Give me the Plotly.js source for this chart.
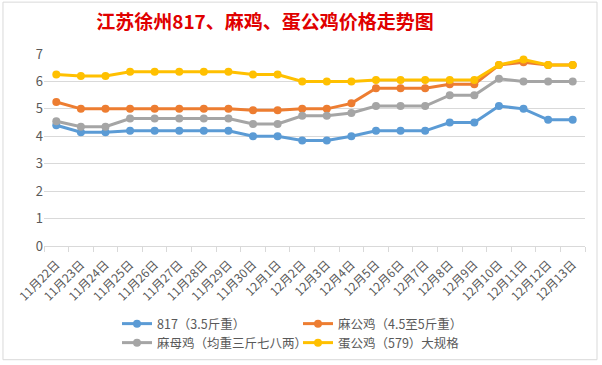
<!DOCTYPE html>
<html>
<head>
<meta charset="utf-8">
<script src="https://cdn.plot.ly/plotly-3.0.1.min.js"></script>
<style>html,body{margin:0;padding:0;background:#fff;}#chart{width:602px;height:365px;}</style>
</head>
<body>
<div id="chart"></div>
<script>
var dates = ["11月22日","11月23日","11月24日","11月25日","11月26日","11月27日","11月28日","11月29日","11月30日","12月1日","12月2日","12月3日","12月4日","12月5日","12月6日","12月7日","12月8日","12月9日","12月10日","12月11日","12月12日","12月13日"];
var s817 = [4.4,4.15,4.15,4.2,4.2,4.2,4.2,4.2,4.0,4.0,3.85,3.85,4.0,4.2,4.2,4.2,4.5,4.5,5.1,5.0,4.6,4.6];
var maGong = [5.25,5.0,5.0,5.0,5.0,5.0,5.0,5.0,4.95,4.95,5.0,5.0,5.2,5.75,5.75,5.75,5.9,5.9,6.6,6.7,6.6,6.6];
var maMu = [4.55,4.35,4.35,4.65,4.65,4.65,4.65,4.65,4.45,4.45,4.75,4.75,4.85,5.1,5.1,5.1,5.5,5.5,6.1,6.0,6.0,6.0];
var danGong = [6.25,6.2,6.2,6.35,6.35,6.35,6.35,6.35,6.25,6.25,6.0,6.0,6.0,6.05,6.05,6.05,6.05,6.05,6.6,6.8,6.6,6.6];
var names = ["817（3.5斤重）","麻公鸡（4.5至5斤重）","麻母鸡（均重三斤七八两）","蛋公鸡（579）大规格"];
var colors = ["#5b9bd5","#ed7d31","#a5a5a5","#ffc000"];
var series = [s817, maGong, maMu, danGong];
var legendIds = ["legend","legend","legend2","legend2"];

var traces = series.map(function(s, i){
  return {x: dates, y: s, name: names[i], type: "scatter", mode: "lines+markers", legend: legendIds[i],
    line: {color: colors[i], width: 3}, marker: {color: colors[i], size: 8}};
});

var legendBase = {orientation: "h", xref: "container", yref: "container", x: 117/602, xanchor: "left",
    yanchor: "top", entrywidth: 136, entrywidthmode: "pixels",
    font: {size: 12.5, color: "#595959"}, tracegroupgap: 0, itemwidth: 30, bgcolor: "rgba(0,0,0,0)"};

var layout = {
  width: 602, height: 365,
  margin: {l: 44, r: 17, t: 54, b: 118.5},
  paper_bgcolor: "#ffffff", plot_bgcolor: "#ffffff",
  font: {family: "Noto Sans CJK SC, sans-serif", color: "#595959"},
  title: {text: "<b>江苏徐州817、麻鸡、蛋公鸡价格走势图</b>", font: {size: 19, color: "#e00000", family: "Noto Sans CJK SC"},
    x: 265/602, xanchor: "center", xref: "container", y: 1 - 22/365, yanchor: "middle", yref: "container"},
  xaxis: {type: "category", range: [-0.5, dates.length - 0.5], autorange: false, tickangle: -45,
    tickfont: {size: 12, color: "#595959"}, automargin: false, ticklabelstandoff: 6,
    showline: true, linecolor: "#d9d9d9", linewidth: 1, ticks: "outside", tickson: "boundaries",
    ticklen: 5, tickcolor: "#d9d9d9", showgrid: false, fixedrange: true},
  yaxis: {range: [0, 7], dtick: 1, tickfont: {size: 13, color: "#595959"}, gridcolor: "#d9d9d9", automargin: false,
    zeroline: false, showline: false, ticks: "", ticklen: 0, fixedrange: true},
  showlegend: true,
  legend: Object.assign({}, legendBase, {y: 1 - 309/365}),
  legend2: Object.assign({}, legendBase, {y: 1 - 328/365}),
  shapes: [{type: "rect", xref: "paper", yref: "paper", x0: -41/540.6, x1: 1 + 12/540.6,
    y0: -114/192.5, y1: 1 + 52/192.5, line: {color: "#d9d9d9", width: 1}, layer: "below"}]
};
Plotly.newPlot("chart", traces, layout, {displayModeBar: false, staticPlot: true});
</script>
</body>
</html>
